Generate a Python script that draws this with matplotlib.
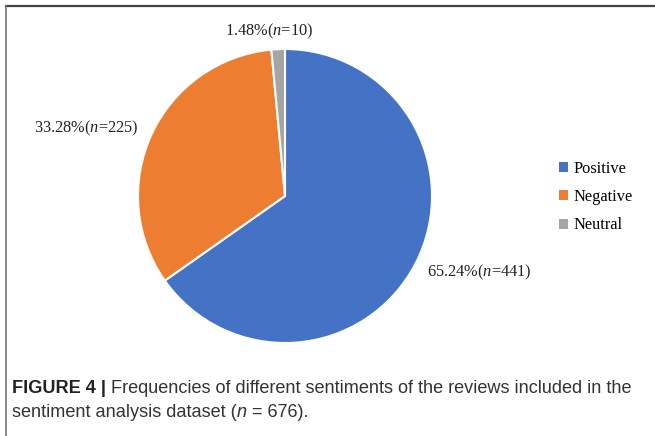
import matplotlib.pyplot as plt
from matplotlib.patches import Patch
from matplotlib.lines import Line2D

# data
labels = ['Positive', 'Negative', 'Neutral']
counts = [441, 225, 10]
colors = ['#4472C4', '#ED7D31', '#A5A5A5']

plt.rcParams['mathtext.fontset'] = 'custom'
plt.rcParams['mathtext.rm'] = 'Liberation Serif'
plt.rcParams['mathtext.it'] = 'Liberation Serif:italic'

fig = plt.figure(figsize=(6.55, 4.36), dpi=100)

# frame lines around the figure panel
fig.add_artist(Line2D([6 / 655, 1], [1 - 6 / 436, 1 - 6 / 436], color='#444444', lw=1.6))
fig.add_artist(Line2D([6 / 655, 6 / 655], [0, 1 - 6 / 436], color='#777777', lw=1.2))

# pie: centre (285,196) px, radius 147 px
cx, cy, r = 285, 196, 147
ax = fig.add_axes([(cx - r) / 655, (436 - cy - r) / 436, 2 * r / 655, 2 * r / 436])
wedges, _ = ax.pie(counts, colors=colors, startangle=90, counterclock=False,
                   wedgeprops=dict(edgecolor='white', linewidth=1.5))
ax.set_xlim(-1, 1)
ax.set_ylim(-1, 1)
ax.set_aspect('equal')

# percentage labels
total = sum(counts)
label_pos = [(1.32, -0.517), (-1.354, 0.463), (-0.109, 1.122)]
for c, (x, y) in zip(counts, label_pos):
    pct = 100 * c / total
    ax.text(x, y, f'{pct:.2f}%($\\mathit{{n}}$={c})', ha='center', va='center',
            family='Liberation Serif', fontsize=11.8, color='#222222')

# legend
handles = [Patch(facecolor=col, edgecolor='none') for col in colors]
fig.legend(handles, labels, loc='center left', bbox_to_anchor=(0.831, 0.548),
           frameon=False, handlelength=0.55, handleheight=0.55, handletextpad=0.35,
           labelspacing=0.75, prop=dict(family='Liberation Serif', size=11.8))

# caption
cap_font = 'Liberation Sans'
fs = 13.1
t1 = fig.text(12 / 655, 1 - 388 / 436, 'FIGURE 4 |', fontsize=fs, weight='bold',
              family=cap_font, va='center', color='#222222')
ax.annotate(' Frequencies of different sentiments of the reviews included in the',
            xy=(1, 0), xycoords=t1, va='bottom', fontsize=fs, family=cap_font,
            color='#333333', annotation_clip=False)
t3 = fig.text(12 / 655, 1 - 412 / 436, 'sentiment analysis dataset (', fontsize=fs,
              family=cap_font, va='center', color='#333333')
t4 = ax.annotate('n', xy=(1, 0), xycoords=t3, va='bottom', fontsize=fs,
                 family=cap_font, style='italic', color='#333333', annotation_clip=False)
ax.annotate(' = 676).', xy=(1, 0), xycoords=t4, va='bottom', fontsize=fs,
            family=cap_font, color='#333333', annotation_clip=False)

plt.savefig('out.png', dpi=100)
